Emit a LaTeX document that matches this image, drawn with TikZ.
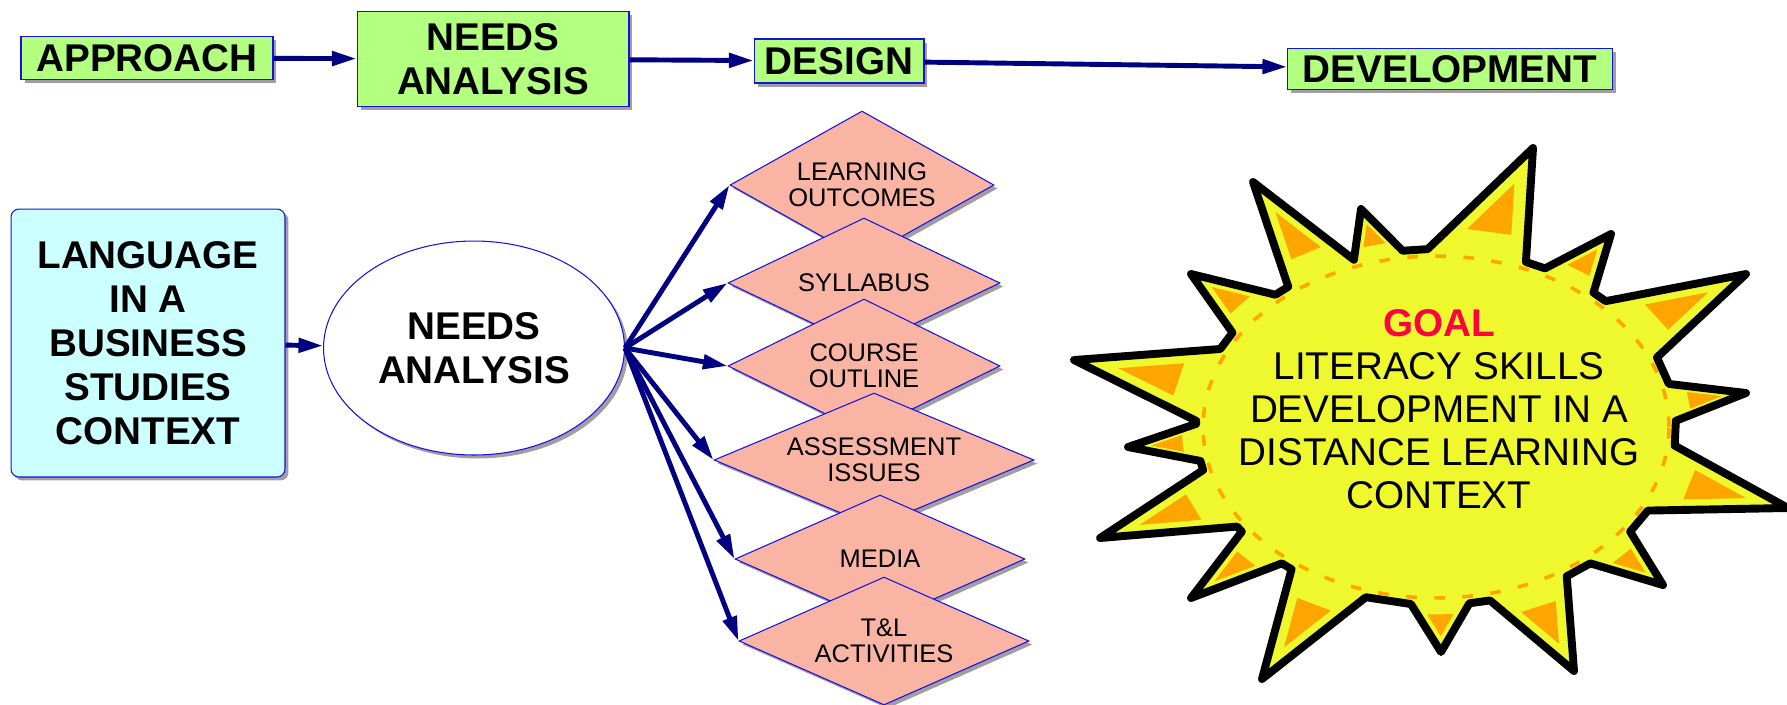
\documentclass[tikz,border=0pt]{standalone}
\usepackage{fontspec}
\setmainfont{Liberation Sans}
\usetikzlibrary{shapes.geometric,shadows,arrows.meta,calc}
\definecolor{stagegreen}{HTML}{B3FF80}
\definecolor{contextcyan}{HTML}{CCFFFF}
\definecolor{topicpink}{HTML}{FAB4A4}
\definecolor{boxblue}{HTML}{1414E0}
\definecolor{arrownavy}{HTML}{000080}
\definecolor{shadowgray}{HTML}{A39CA3}
\definecolor{sunyellow}{HTML}{EEF82C}
\definecolor{sunorange}{HTML}{FFA500}
\definecolor{goalred}{HTML}{FF0040}
\newcommand{\sunrays}{-166/12/-362/-67, -140/8/-245/-153, -119/9/-183/-245,
  -104/6/-75/-218, -80/12/97/-279, -56/7/175/-193, -34/11/310/-153,
  -8/6/310/-34, 17/11/352/81, 43/7/227/158, 67/10/138/244, 89/7/5/225,
  117/10/-174/252, 137/7/-245/171, 156/10/-336/111, 175/6/-308/20}
\begin{document}
\begin{tikzpicture}[x=0.02cm, y=-0.02cm,
  edgeblue/.style={draw=boxblue, line width=0.6pt},
  dropgray/.style={drop shadow={shadow xshift=0.07cm, shadow yshift=-0.07cm, fill=shadowgray, opacity=1}},
  stage/.style={rectangle, edgeblue, fill=stagegreen, dropgray, inner sep=0pt, align=center, font=\fontsize{22}{25}\selectfont\bfseries},
  topic/.style={diamond, edgeblue, fill=topicpink, dropgray, inner sep=0pt, shape aspect=2.4, align=center, font=\fontsize{14.5}{15}\selectfont},
  flow/.style={draw=arrownavy, line width=2.8pt, -{Triangle[length=14pt,width=8pt]}}]
\useasboundingbox (0,0) rectangle (1787,704);
\node[stage, minimum width=5.04cm, minimum height=0.86cm] (approach) at (147,58) {APPROACH};
\node[stage, minimum width=5.44cm, minimum height=1.9cm] (analysis) at (493,59) {NEEDS\\ANALYSIS};
\node[stage, minimum width=3.4cm, minimum height=0.88cm] (design) at (839,61) {DESIGN};
\node[stage, minimum width=6.5cm, minimum height=0.82cm] (development) at (1450,69) {DEVELOPMENT};
\draw[flow] (approach) -- (analysis);
\draw[flow] (analysis) -- (design);
\draw[flow] (design) -- (development);

\node[rectangle, rounded corners=4.5pt, edgeblue, fill=contextcyan, dropgray, minimum width=5.48cm, minimum height=5.36cm, align=center, font=\fontsize{22}{25}\selectfont\bfseries] (context) at (148,343) {LANGUAGE\\IN A\\BUSINESS\\STUDIES\\CONTEXT};
\node[ellipse, edgeblue, fill=white, dropgray, minimum width=6.02cm, minimum height=4.28cm, inner sep=0pt, align=center, font=\fontsize{22}{25}\selectfont\bfseries] (needs) at (474,348) {NEEDS\\ANALYSIS};
\draw[flow] (context) -- (needs);

\node[topic, shape aspect=1.8, minimum width=5.28cm, minimum height=2.96cm] (outcomes) at (862,185) {LEARNING\\OUTCOMES};
\node[topic, minimum width=5.44cm, minimum height=2.6cm] (syllabus) at (864,283) {SYLLABUS};
\node[topic, minimum width=5.44cm, minimum height=2.68cm] (outline) at (864,366) {COURSE\\OUTLINE};
\node[topic, minimum width=6.4cm, minimum height=2.68cm] (assessment) at (874,460) {ASSESSMENT\\ISSUES};
\node[topic, minimum width=5.8cm, minimum height=2.56cm] (media) at (880,559) {MEDIA};
\node[topic, minimum width=5.8cm, minimum height=2.56cm] (activities) at (884,641) {T\&L\\ACTIVITIES};
\foreach \t in {outcomes,syllabus,outline,assessment,media,activities}
  \draw[flow] (needs.east) -- (\t.west);

\begin{scope}[shift={(1436,427)}]
\filldraw[fill=sunyellow, draw=black, line width=4.5pt, line join=round] (181.5:240 and 178)
  \foreach \a/\d/\tx/\ty in \sunrays {-- (\a-\d:240 and 178) -- (\tx,\ty) -- (\a+\d:240 and 178)} -- cycle;
\foreach \a/\d/\tx/\ty in \sunrays {
  \coordinate (rb) at (\a-\d:240 and 178);
  \coordinate (rc) at (\a+\d:240 and 178);
  \coordinate (rt) at (\tx,\ty);
  \coordinate (rm) at ($(rb)!0.5!(rc)!0.4!(rt)$);
  \fill[sunorange] ($(rm)!0.45!(rb)$) -- ($(rm)!0.45!(rt)$) -- ($(rm)!0.45!(rc)$) -- cycle;
}
\draw[sunorange, line width=2pt, dash pattern=on 6pt off 10pt] (0,0) ellipse [x radius=4.66cm, y radius=3.42cm];
\node[align=center, font=\fontsize{22}{24.5}\selectfont] (goal) at (3,-18) {\textcolor{goalred}{\bfseries GOAL}\\LITERACY SKILLS\\DEVELOPMENT IN A\\DISTANCE LEARNING\\CONTEXT};
\end{scope}
\end{tikzpicture}
\end{document}
